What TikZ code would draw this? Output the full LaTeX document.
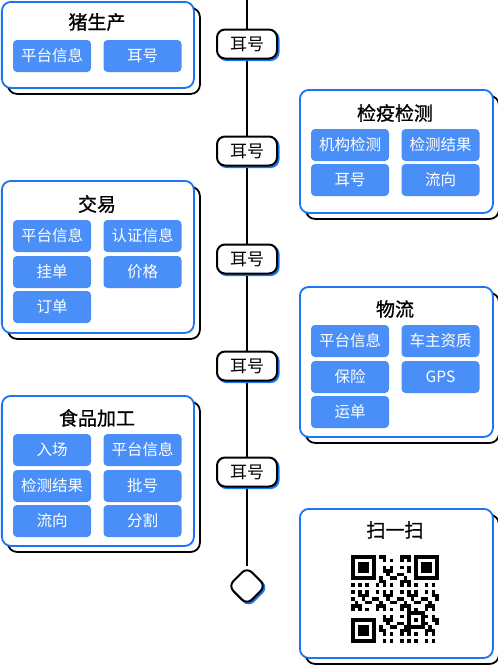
\documentclass[tikz,border=0pt]{standalone}
\usepackage{fontspec}
\setmainfont{Noto Sans CJK SC}
\newfontfamily\titlefont{Noto Sans CJK SC}[FakeBold=0.9]
\usetikzlibrary{shapes.geometric,shadows}
\definecolor{chipblue}{HTML}{4A8FF7}
\definecolor{bordblue}{HTML}{1C74F2}
\tikzset{
  cardbox/.style={draw=bordblue, line width=1.8pt, fill=white, rounded corners=9pt, anchor=north west,
     copy shadow={shadow xshift=6pt, shadow yshift=-6pt, draw=black, fill=white, line width=1.8pt}},
  cardtitle/.style={font=\titlefont\fontsize{19}{22}\selectfont, text=black},
  chip/.style={fill=chipblue, rounded corners=4pt, minimum width=78pt, minimum height=32pt, inner sep=0pt,
     text=white, font=\fontsize{15.5}{18}\selectfont},
  pill/.style={draw=black, line width=2pt, fill=white, rounded corners=8pt, minimum width=60pt, minimum height=29pt,
     inner sep=0pt, font=\fontsize{17}{20}\selectfont,
     copy shadow={shadow xshift=1.6pt, shadow yshift=-1.6pt, draw=bordblue, fill=bordblue, line width=2pt}},
  endmark/.style={diamond, draw=black, line width=2pt, fill=white, rounded corners=7pt, minimum size=38pt, inner sep=0pt,
     copy shadow={shadow xshift=1.6pt, shadow yshift=-1.6pt, draw=bordblue, fill=bordblue, line width=2pt}},
  timeline/.style={draw=black, line width=2.8pt},
  qrmod/.style={fill=black},
}
\begin{document}
\begin{tikzpicture}[x=1pt,y=-1pt]
\useasboundingbox (0,0) rectangle (498,667);
% timeline
\coordinate (top) at (247,0);
\node[endmark] (end) at (247,586) {};
\draw[timeline] (top) -- (end.north);
\node[pill] (p1) at (247,44) {耳号};
\node[pill] (p2) at (247,151) {耳号};
\node[pill] (p3) at (247,259) {耳号};
\node[pill] (p4) at (247,366) {耳号};
\node[pill] (p5) at (247,472) {耳号};

% card 1
\node[cardbox, minimum width=192pt, minimum height=86pt] (c1) at (1,1) {};
\node[cardtitle] (c1t) at (97,22) {猪生产};
\node[chip] (c1a) at (52,56) {平台信息};
\node[chip] (c1b) at (142.5,56) {耳号};

% card 2
\node[cardbox, minimum width=192pt, minimum height=152pt] (c2) at (1,180) {};
\node[cardtitle] (c2t) at (97,204) {交易};
\node[chip] (c2a) at (52,236) {平台信息};
\node[chip] (c2b) at (142.5,236) {认证信息};
\node[chip] (c2c) at (52,272) {挂单};
\node[chip] (c2d) at (142.5,272) {价格};
\node[chip] (c2e) at (52,307) {订单};

% card 3
\node[cardbox, minimum width=192pt, minimum height=150pt] (c3) at (1,395) {};
\node[cardtitle] (c3t) at (97,418) {食品加工};
\node[chip] (c3a) at (52,450) {入场};
\node[chip] (c3b) at (142.5,450) {平台信息};
\node[chip] (c3c) at (52,486) {检测结果};
\node[chip] (c3d) at (142.5,486) {批号};
\node[chip] (c3e) at (52,521) {流向};
\node[chip] (c3f) at (142.5,521) {分割};

% card 4
\node[cardbox, minimum width=193pt, minimum height=123pt] (c4) at (299,89) {};
\node[cardtitle] (c4t) at (395,113) {检疫检测};
\node[chip] (c4a) at (350,145) {机构检测};
\node[chip] (c4b) at (440.5,145) {检测结果};
\node[chip] (c4c) at (350,180) {耳号};
\node[chip] (c4d) at (440.5,180) {流向};

% card 5
\node[cardbox, minimum width=193pt, minimum height=150pt] (c5) at (299,286) {};
\node[cardtitle] (c5t) at (395,309) {物流};
\node[chip] (c5a) at (350,341) {平台信息};
\node[chip] (c5b) at (440.5,341) {车主资质};
\node[chip] (c5c) at (350,377) {保险};
\node[chip] (c5d) at (440.5,377) {GPS};
\node[chip] (c5e) at (350,412) {运单};

% card 6
\node[cardbox, minimum width=193pt, minimum height=149pt] (c6) at (299,508) {};
\node[cardtitle] (c6t) at (395,530) {扫一扫};
% QR code
\begin{scope}[shift={(351,555)}, x=3.5pt, y=-3.5pt]
  \foreach \ox/\oy in {0/0, 18/0, 0/18} {
    \fill[black] (\ox,\oy) rectangle ++(7,7);
    \fill[white] (\ox+1,\oy+1) rectangle ++(5,5);
    \fill[black] (\ox+2,\oy+2) rectangle ++(3,3);
  }
  \fill[black] (16,16) rectangle ++(5,5);
  \fill[white] (17,17) rectangle ++(3,3);
  \fill[black] (18,18) rectangle ++(1,1);
  \foreach \i in {0,...,24} {
    \foreach \j in {0,...,24} {
      \pgfmathtruncatemacro\v{mod(\i*\i*7+\j*\j*5+\i*\j*3+\i+2*\j,7)}
      \pgfmathtruncatemacro\qskip{((\i<8)&&(\j<8)) || ((\i>16)&&(\j<8)) || ((\i<8)&&(\j>16)) || ((\i>15)&&(\i<21)&&(\j>15)&&(\j<21))}
      \ifnum\qskip=0
        \ifnum\v<3
          \fill[qrmod] (\i,\j) rectangle ++(1,1);
        \fi
      \fi
    }
  }
\end{scope}
\end{tikzpicture}
\end{document}
